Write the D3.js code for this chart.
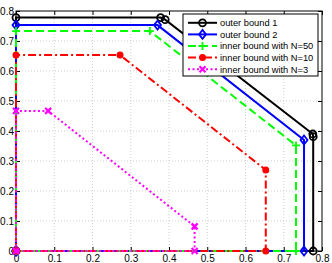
<!DOCTYPE html>
<html><head><meta charset="utf-8">
<script src="https://cdn.jsdelivr.net/npm/d3@7"></script>
<style>body{margin:0;background:#fff}svg{display:block}text{font-family:"Liberation Sans",Arial,sans-serif}</style>
</head><body>
<script>
const xTicks = [0,0.1,0.2,0.3,0.4,0.5,0.6,0.7,0.8];
const yTicks = [0,0.1,0.2,0.3,0.4,0.5,0.6,0.7,0.8];
const seriesNames = ["outer bound 1","outer bound 2","inner bound with N=50","inner bound with N=10","inner bound with N=3"];
const outer1 = [[0,0],[0,0.778],[0.378,0.778],[0.39,0.771],[0.776,0.39],[0.777,0.381],[0.777,0],[0,0]];
const outer2 = [[0,0],[0,0.753],[0.37,0.753],[0.753,0.37],[0.753,0],[0,0]];
const inner50 = [[0,0],[0,0.733],[0.35,0.733],[0.732,0.352],[0.732,0],[0,0]];
const inner10 = [[0,0],[0,0.653],[0.272,0.653],[0.653,0.27],[0.653,0],[0,0]];
const inner3 = [[0,0],[0,0.467],[0.084,0.467],[0.467,0.082],[0.467,0],[0,0]];

const W=332,H=263;
const m={l:16,r:10,t:11,b:12};
const svg=d3.select("body").append("svg").attr("width",W).attr("height",H);
const x=d3.scaleLinear().domain([0,0.8]).range([m.l,W-m.r]);
const y=d3.scaleLinear().domain([0,0.8]).range([H-m.b,m.t]);
const fmt=d=>d===0?"0":d3.format(".1f")(d);

// grid
const g=svg.append("g");
g.selectAll(".gx").data(xTicks.slice(1,-1)).join("line").attr("x1",d=>x(d)).attr("x2",d=>x(d)).attr("y1",y(0)).attr("y2",y(0.8)).attr("stroke","#bbb").attr("stroke-width",0.7).attr("stroke-dasharray","1,2");
g.selectAll(".gy").data(yTicks.slice(1,-1)).join("line").attr("y1",d=>y(d)).attr("y2",d=>y(d)).attr("x1",x(0)).attr("x2",x(0.8)).attr("stroke","#bbb").attr("stroke-width",0.7).attr("stroke-dasharray","1,2");

// axes (inward ticks)
const ax=svg.append("g").attr("transform",`translate(0,${y(0)})`).call(d3.axisBottom(x).tickValues(xTicks).tickFormat(fmt).tickSizeInner(-4).tickSizeOuter(0).tickPadding(4));
const ay=svg.append("g").attr("transform",`translate(${x(0)},0)`).call(d3.axisLeft(y).tickValues(yTicks).tickFormat(fmt).tickSizeInner(-4).tickSizeOuter(0).tickPadding(2));
const at=svg.append("g").attr("transform",`translate(0,${y(0.8)})`).call(d3.axisTop(x).tickValues(xTicks).tickFormat("").tickSizeInner(-4).tickSizeOuter(0));
const ar=svg.append("g").attr("transform",`translate(${x(0.8)},0)`).call(d3.axisRight(y).tickValues(yTicks).tickFormat("").tickSizeInner(-4).tickSizeOuter(0));
[ax,ay,at,ar].forEach(a=>{a.select(".domain").remove();a.selectAll("text").attr("font-size",10).attr("fill","#000").attr("font-family","Liberation Sans, Arial, sans-serif");a.selectAll("line").attr("stroke","#000");});
svg.append("rect").attr("x",x(0)).attr("y",y(0.8)).attr("width",x(0.8)-x(0)).attr("height",y(0)-y(0.8)).attr("fill","none").attr("stroke","#000").attr("stroke-width",1);

const styles=[
 {data:outer1,color:"#000",dash:null,marker:"circle"},
 {data:outer2,color:"#0000ff",dash:null,marker:"diamond"},
 {data:inner50,color:"#00ff00",dash:"8,4",marker:"plus"},
 {data:inner10,color:"#ff0000",dash:"8,3,2,3",marker:"dot"},
 {data:inner3,color:"#ff00ff",dash:"2,2.5",marker:"x"}
];
const line=d3.line().x(d=>x(d[0])).y(d=>y(d[1]));
function marker(sel,type,color,cx,cy){
  if(type==="circle") sel.append("circle").attr("cx",cx).attr("cy",cy).attr("r",3.5).attr("fill","none").attr("stroke",color).attr("stroke-width",1.8);
  else if(type==="diamond") sel.append("path").attr("d",`M${cx},${cy-4.5}L${cx+3.5},${cy}L${cx},${cy+4.5}L${cx-3.5},${cy}Z`).attr("fill","none").attr("stroke",color).attr("stroke-width",1.8);
  else if(type==="plus") sel.append("path").attr("d",`M${cx-4},${cy}H${cx+4}M${cx},${cy-4}V${cy+4}`).attr("stroke",color).attr("stroke-width",1.8);
  else if(type==="dot") sel.append("circle").attr("cx",cx).attr("cy",cy).attr("r",3.5).attr("fill",color);
  else if(type==="x") sel.append("path").attr("d",`M${cx-3},${cy-3}L${cx+3},${cy+3}M${cx-3},${cy+3}L${cx+3},${cy-3}`).attr("stroke",color).attr("stroke-width",2.2);
}
styles.forEach(s=>{
  svg.append("path").attr("d",line(s.data)).attr("fill","none").attr("stroke",s.color).attr("stroke-width",2).attr("stroke-dasharray",s.dash);
  const mg=svg.append("g");
  s.data.forEach(p=>marker(mg,s.marker,s.color,x(p[0]),y(p[1])));
});

// legend
const lg=svg.append("g");
const lx=183,ly=14,lw=135,lh=62;
lg.append("rect").attr("x",lx).attr("y",ly).attr("width",lw).attr("height",lh).attr("fill","#fff").attr("stroke","#000").attr("stroke-width",1);
seriesNames.forEach((n,i)=>{
  const s=styles[i];const yy=ly+8.8+i*11.6;
  lg.append("line").attr("x1",lx+5).attr("x2",lx+34).attr("y1",yy).attr("y2",yy).attr("stroke",s.color).attr("stroke-width",2).attr("stroke-dasharray",s.dash);
  marker(lg,s.marker,s.color,lx+19.5,yy);
  lg.append("text").attr("x",lx+37).attr("y",yy+3.3).attr("font-size",9.3).text(n);
});
</script>
</body></html>
